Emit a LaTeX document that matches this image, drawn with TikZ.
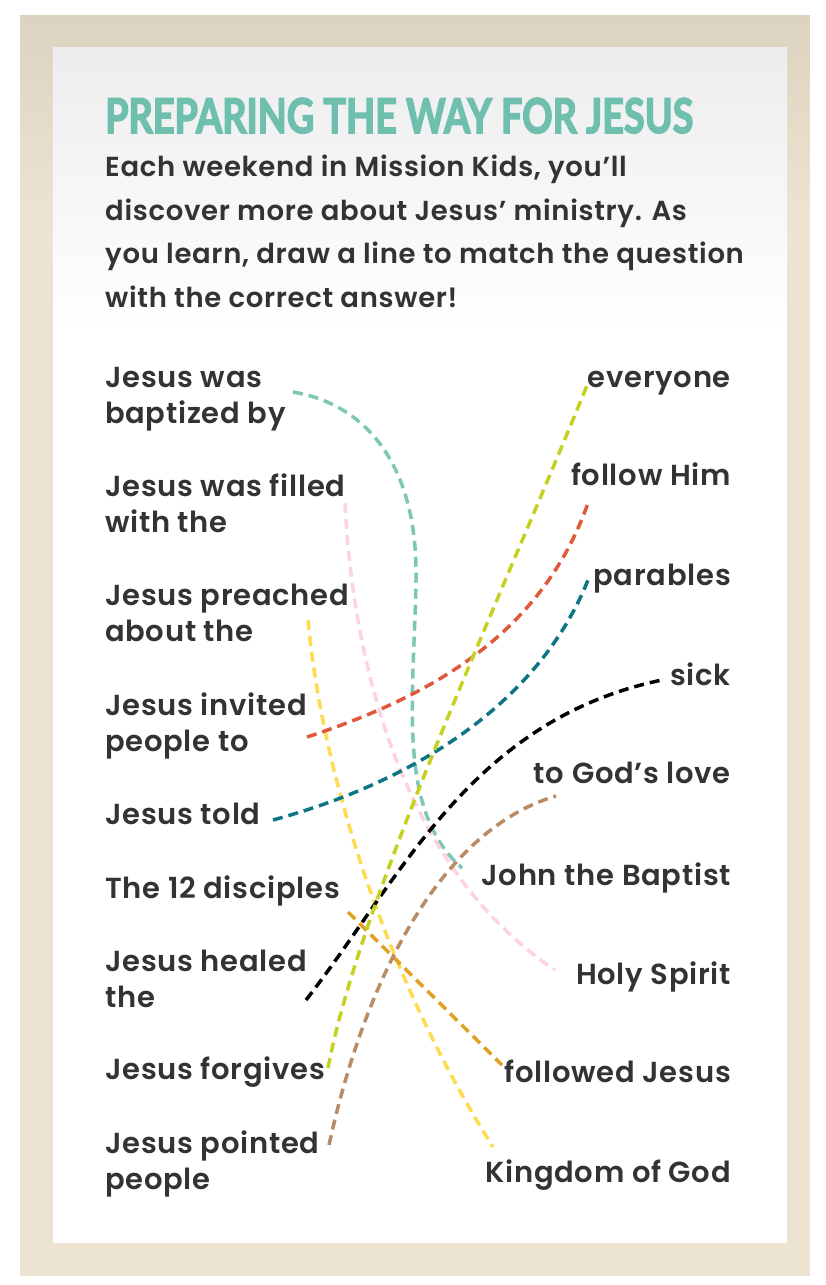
\documentclass[tikz,border=0pt]{standalone}
\usepackage{fontspec}
\setmainfont{Lato}
\IfFontExistsTF{Poppins SemiBold}{%
  \newfontfamily\lblfont{Poppins SemiBold}[LetterSpace=2.5]
  \newfontfamily\introfont{Poppins SemiBold}[LetterSpace=2.5]
}{\IfFontExistsTF{Poppins Medium}{%
  \newfontfamily\lblfont{Poppins Medium}[LetterSpace=3]
  \newfontfamily\introfont{Poppins Medium}[LetterSpace=3]
}{%
  \newfontfamily\lblfont{Poppins}[LetterSpace=4]
  \newfontfamily\introfont{Poppins}[LetterSpace=3.5]
}}
\newcommand\embon[1]{\special{pdf:literal direct 2 Tr #1 w}}
\newcommand\emboff{\special{pdf:literal direct 0 Tr}}
\definecolor{frame}{HTML}{ECE3D2}
\definecolor{frametop}{HTML}{DDD3C1}
\definecolor{titlec}{HTML}{6FBFAF}
\definecolor{txt}{HTML}{333333}
\definecolor{cteal}{HTML}{7CC7B6}
\definecolor{cpink}{HTML}{FDD3E1}
\definecolor{cyellow}{HTML}{FEDB4F}
\definecolor{cred}{HTML}{E0593A}
\definecolor{cdteal}{HTML}{0E7585}
\definecolor{cblack}{HTML}{000000}
\definecolor{clime}{HTML}{C5D11E}
\definecolor{cbrown}{HTML}{B98C66}
\definecolor{corange}{HTML}{E0A024}
\tikzset{
  txtbase/.style={text=txt, inner sep=0pt},
  lbl/.style={txtbase, font=\fontsize{29}{36}\selectfont\lblfont, align=left, anchor=base west},
  rlbl/.style={txtbase, font=\fontsize{29}{36}\selectfont\lblfont, anchor=base east},
  dline/.style={line width=3.5pt, dash pattern=on 10pt off 6pt}
}
\begin{document}
\begin{tikzpicture}[x=1pt,y=-1pt]
\useasboundingbox (0,0) rectangle (826,1285);
\fill[white] (0,0) rectangle (826,1285);
% frame
\fill[frame] (20,15) rectangle (810,1276);
\foreach \i in {0,...,19} {
  \pgfmathsetmacro\pc{100*(1-\i/20)}
  \fill[frametop!\pc!frame] (20,15+\i*10) rectangle (810,25+\i*10);
}
\fill[white] (53,47) rectangle (787,1243);
\foreach \i in {0,...,27} {
  \pgfmathsetmacro\gr{7*(1-\i/28)}
  \fill[black!\gr!white] (53,47+\i*10) rectangle (787,57.5+\i*10);
}

% title and intro
\node[inner sep=0pt, anchor=base west, text=titlec,
  execute at begin node={\embon{0.35}}, execute at end node={\emboff}] (title) at (105,133)
  {\resizebox{588pt}{35pt}{\bfseries PREPARING THE WAY FOR JESUS}};
\node[txtbase, font=\fontsize{27.5}{43.5}\selectfont\introfont, align=left, anchor=base west] (intro) at (105,307)
  {Each weekend in Mission Kids, you’ll\\discover more about Jesus’ ministry. As\\you learn, draw a line to match the question\\with the correct answer!};

% left labels (base = last line)
\node[lbl] (q1) at (105,423) {Jesus was\\baptized by};
\node[lbl] (q2) at (105,532) {Jesus was filled\\with the};
\node[lbl] (q3) at (105,641) {Jesus preached\\about the};
\node[lbl] (q4) at (105,751) {Jesus invited\\people to};
\node[lbl] (q5) at (105,824) {Jesus told};
\node[lbl] (q6) at (105,898) {The 12 disciples};
\node[lbl] (q7) at (105,1007) {Jesus healed\\the};
\node[lbl] (q8) at (105,1079) {Jesus forgives};
\node[lbl] (q9) at (105,1189) {Jesus pointed\\people};

% right labels
\node[rlbl] (a1) at (731,387) {everyone};
\node[rlbl] (a2) at (731,485) {follow Him};
\node[rlbl] (a3) at (731,585) {parables};
\node[rlbl] (a4) at (731,685) {sick};
\node[rlbl] (a5) at (731,783) {to God’s love};
\node[rlbl] (a6) at (731,885) {John the Baptist};
\node[rlbl] (a7) at (731,984) {Holy Spirit};
\node[rlbl] (a8) at (731,1082) {followed Jesus};
\node[rlbl] (a9) at (731,1182) {Kingdom of God};

% connector end points
\coordinate (s1) at (293,392); \coordinate (m1) at (416,580); \coordinate (e1) at (462,868);
\coordinate (s2) at (345,503); \coordinate (e2) at (555,970);
\coordinate (s3) at (308,620); \coordinate (e3) at (493,1147);
\coordinate (s4) at (307,737); \coordinate (e4) at (588,503);
\coordinate (s5) at (273,820); \coordinate (e5) at (588,580);
\coordinate (s6) at (348,912); \coordinate (e6) at (502,1065);
\coordinate (s7) at (306,1000); \coordinate (e7) at (662,680);
\coordinate (s8) at (328,1068); \coordinate (e8) at (588,383);
\coordinate (s9) at (329,1145); \coordinate (e9) at (556,796);

% connectors
\draw[dline, cteal] (s1) .. controls (370,405) and (418,470) .. (m1) .. controls (414,700) and (396,810) .. (e1);
\draw[dline, cpink] (s2) .. controls (355,700) and (420,880) .. (e2);
\draw[dline, cyellow] (s3) .. controls (325,800) and (400,1000) .. (e3);
\draw[dline, cred] (s4) .. controls (420,700) and (540,640) .. (e4);
\draw[dline, cdteal] (s5) .. controls (420,780) and (540,700) .. (e5);
\draw[dline, corange] (s6) -- (e6);
\draw[dline, cblack] (s7) .. controls (400,880) and (470,720) .. (e7);
\draw[dline, clime] (s8) .. controls (360,900) and (500,600) .. (e8);
\draw[dline, cbrown] (s9) .. controls (365,980) and (440,830) .. (e9);
\end{tikzpicture}
\end{document}
